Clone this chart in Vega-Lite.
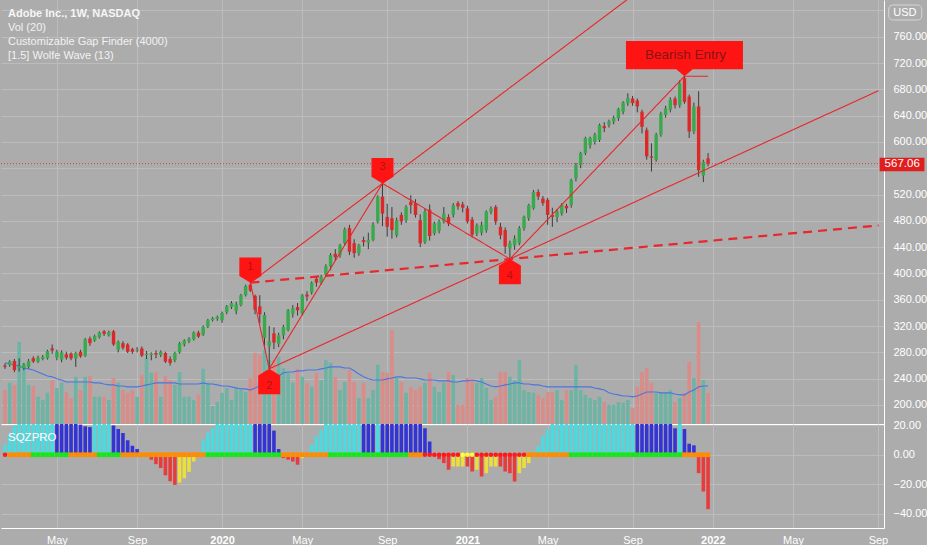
{
  "$schema": "https://vega.github.io/schema/vega-lite/v6.json",
  "background": "#acacac",
  "padding": 0,
  "spacing": 0,
  "bounds": "flush",
  "config": {
    "view": {"stroke": null},
    "font": "Liberation Sans",
    "axis": {"labelFont": "Liberation Sans", "labelFontSize": 11, "labelColor": "#ffffff", "gridColor": "#bcbcbc", "gridWidth": 1, "domainColor": "#ffffff", "ticks": false, "labelPadding": 9, "labelOverlap": false}
  },
  "datasets": {
    "weeks": [
      {"d":"2019-02-18","o":260,"h":263,"l":255,"c":258,"v":8.5,"ma":15.3,"m":7,"mc":"cyan","sq":"red"},
      {"d":"2019-02-25","o":261,"h":268,"l":258,"c":266,"v":10.3,"ma":15,"m":14,"mc":"cyan","sq":"orange"},
      {"d":"2019-03-04","o":267,"h":270,"l":250,"c":253,"v":9.8,"ma":14.8,"m":20,"mc":"cyan","sq":"orange"},
      {"d":"2019-03-11","o":256,"h":271,"l":251,"c":259,"v":20.5,"ma":14.5,"m":30,"mc":"cyan","sq":"orange"},
      {"d":"2019-03-18","o":256,"h":264,"l":253,"c":262,"v":14,"ma":14,"m":30,"mc":"cyan","sq":"orange"},
      {"d":"2019-03-25","o":258,"h":270,"l":256,"c":267,"v":9.8,"ma":13.8,"m":30,"mc":"cyan","sq":"orange"},
      {"d":"2019-04-01","o":271,"h":274,"l":264,"c":266,"v":9.5,"ma":13.5,"m":30,"mc":"cyan","sq":"green"},
      {"d":"2019-04-08","o":266,"h":275,"l":264,"c":272,"v":6.8,"ma":13,"m":30,"mc":"cyan","sq":"green"},
      {"d":"2019-04-15","o":270,"h":276,"l":268,"c":273,"v":6,"ma":12.5,"m":30,"mc":"cyan","sq":"green"},
      {"d":"2019-04-22","o":271,"h":284,"l":269,"c":282,"v":7.8,"ma":12,"m":30,"mc":"cyan","sq":"green"},
      {"d":"2019-04-29","o":286,"h":292,"l":278,"c":283,"v":11,"ma":11.8,"m":30,"mc":"cyan","sq":"green"},
      {"d":"2019-05-06","o":272,"h":284,"l":268,"c":281,"v":9,"ma":11.3,"m":30,"mc":"blue","sq":"green"},
      {"d":"2019-05-13","o":269,"h":283,"l":265,"c":280,"v":10.3,"ma":11,"m":30,"mc":"blue","sq":"green"},
      {"d":"2019-05-20","o":277,"h":281,"l":269,"c":272,"v":8,"ma":10.5,"m":30,"mc":"blue","sq":"green"},
      {"d":"2019-05-27","o":278,"h":280,"l":268,"c":271,"v":6.5,"ma":10.5,"m":30,"mc":"blue","sq":"orange"},
      {"d":"2019-06-03","o":271,"h":281,"l":258,"c":279,"v":11.8,"ma":10.5,"m":30,"mc":"blue","sq":"orange"},
      {"d":"2019-06-10","o":281,"h":284,"l":272,"c":274,"v":8.5,"ma":10.5,"m":20.5,"mc":"blue","sq":"orange"},
      {"d":"2019-06-17","o":275,"h":302,"l":273,"c":300,"v":11.8,"ma":10.5,"m":19.3,"mc":"blue","sq":"orange"},
      {"d":"2019-06-24","o":301,"h":304,"l":290,"c":294,"v":12,"ma":10.5,"m":18.8,"mc":"blue","sq":"orange"},
      {"d":"2019-07-01","o":298,"h":307,"l":296,"c":305,"v":6.8,"ma":10.3,"m":30,"mc":"cyan","sq":"orange"},
      {"d":"2019-07-08","o":303,"h":312,"l":301,"c":310,"v":6.8,"ma":10.3,"m":30,"mc":"cyan","sq":"green"},
      {"d":"2019-07-15","o":312,"h":314,"l":305,"c":308,"v":6.8,"ma":10,"m":30,"mc":"cyan","sq":"green"},
      {"d":"2019-07-22","o":306,"h":313,"l":304,"c":311,"v":6,"ma":9.8,"m":30,"mc":"cyan","sq":"green"},
      {"d":"2019-07-29","o":312,"h":314,"l":290,"c":292,"v":11.5,"ma":9.8,"m":19.9,"mc":"blue","sq":"green"},
      {"d":"2019-08-05","o":284,"h":298,"l":280,"c":296,"v":10.3,"ma":9.5,"m":17.5,"mc":"blue","sq":"green"},
      {"d":"2019-08-12","o":294,"h":297,"l":284,"c":287,"v":8.5,"ma":9.5,"m":14.8,"mc":"blue","sq":"orange"},
      {"d":"2019-08-19","o":292,"h":294,"l":279,"c":281,"v":7.8,"ma":9.3,"m":9.8,"mc":"blue","sq":"orange"},
      {"d":"2019-08-26","o":285,"h":287,"l":278,"c":281,"v":8.5,"ma":9.3,"m":6.1,"mc":"blue","sq":"orange"},
      {"d":"2019-09-02","o":283,"h":288,"l":280,"c":284,"v":6.8,"ma":9.3,"m":3.9,"mc":"blue","sq":"orange"},
      {"d":"2019-09-09","o":286,"h":289,"l":273,"c":275,"v":12.3,"ma":9.5,"m":1,"mc":"blue","sq":"orange"},
      {"d":"2019-09-16","o":276,"h":282,"l":270,"c":278,"v":16.5,"ma":9.8,"m":-1.5,"mc":"red","sq":"orange"},
      {"d":"2019-09-23","o":276,"h":280,"l":268,"c":278,"v":12.8,"ma":10,"m":-3.4,"mc":"red","sq":"orange"},
      {"d":"2019-09-30","o":279,"h":283,"l":271,"c":277,"v":13,"ma":10.3,"m":-6.4,"mc":"red","sq":"orange"},
      {"d":"2019-10-07","o":276,"h":283,"l":273,"c":281,"v":6.8,"ma":10.3,"m":-9,"mc":"red","sq":"orange"},
      {"d":"2019-10-14","o":279,"h":281,"l":264,"c":266,"v":12,"ma":10.3,"m":-14,"mc":"red","sq":"orange"},
      {"d":"2019-10-21","o":270,"h":274,"l":260,"c":264,"v":11,"ma":10.3,"m":-18,"mc":"red","sq":"orange"},
      {"d":"2019-10-28","o":268,"h":281,"l":265,"c":279,"v":9.8,"ma":10.3,"m":-20.5,"mc":"red","sq":"orange"},
      {"d":"2019-11-04","o":280,"h":296,"l":278,"c":294,"v":13,"ma":10,"m":-19,"mc":"yellow","sq":"orange"},
      {"d":"2019-11-11","o":292,"h":300,"l":289,"c":298,"v":6.8,"ma":10,"m":-16,"mc":"yellow","sq":"orange"},
      {"d":"2019-11-18","o":297,"h":303,"l":294,"c":301,"v":6.8,"ma":10,"m":-11.6,"mc":"yellow","sq":"orange"},
      {"d":"2019-11-25","o":300,"h":312,"l":298,"c":310,"v":6,"ma":10,"m":-4.6,"mc":"yellow","sq":"orange"},
      {"d":"2019-12-02","o":310,"h":313,"l":302,"c":304,"v":7.3,"ma":10,"m":-1,"mc":"yellow","sq":"orange"},
      {"d":"2019-12-09","o":307,"h":321,"l":305,"c":319,"v":13.8,"ma":10.3,"m":10.2,"mc":"cyan","sq":"orange"},
      {"d":"2019-12-16","o":319,"h":331,"l":317,"c":329,"v":10.3,"ma":10,"m":14.8,"mc":"cyan","sq":"green"},
      {"d":"2019-12-23","o":329,"h":334,"l":327,"c":332,"v":4.5,"ma":10,"m":18.2,"mc":"cyan","sq":"green"},
      {"d":"2019-12-30","o":331,"h":336,"l":328,"c":334,"v":5.5,"ma":9.8,"m":30,"mc":"cyan","sq":"green"},
      {"d":"2020-01-06","o":329,"h":342,"l":325,"c":340,"v":7.8,"ma":9.5,"m":30,"mc":"cyan","sq":"green"},
      {"d":"2020-01-13","o":341,"h":352,"l":338,"c":350,"v":9,"ma":9.5,"m":30,"mc":"cyan","sq":"green"},
      {"d":"2020-01-20","o":349,"h":358,"l":346,"c":355,"v":6,"ma":9.3,"m":30,"mc":"cyan","sq":"green"},
      {"d":"2020-01-27","o":343,"h":357,"l":338,"c":353,"v":9.3,"ma":9,"m":30,"mc":"cyan","sq":"green"},
      {"d":"2020-02-03","o":352,"h":369,"l":350,"c":367,"v":8.5,"ma":8.8,"m":30,"mc":"cyan","sq":"green"},
      {"d":"2020-02-10","o":367,"h":383,"l":365,"c":381,"v":8,"ma":8.8,"m":30,"mc":"cyan","sq":"green"},
      {"d":"2020-02-17","o":383,"h":386,"l":372,"c":374,"v":11.5,"ma":8.5,"m":30,"mc":"cyan","sq":"green"},
      {"d":"2020-02-24","o":366,"h":368,"l":338,"c":345,"v":17.8,"ma":9,"m":30,"mc":"blue","sq":"green"},
      {"d":"2020-03-02","o":350,"h":367,"l":324,"c":338,"v":17.3,"ma":9.5,"m":30,"mc":"blue","sq":"green"},
      {"d":"2020-03-09","o":302,"h":341,"l":285,"c":337,"v":18.5,"ma":10,"m":30,"mc":"blue","sq":"green"},
      {"d":"2020-03-16","o":290,"h":320,"l":255,"c":297,"v":16,"ma":10.5,"m":30,"mc":"blue","sq":"green"},
      {"d":"2020-03-23","o":309,"h":318,"l":285,"c":295,"v":16,"ma":11.3,"m":16.4,"mc":"blue","sq":"green"},
      {"d":"2020-03-30","o":293,"h":310,"l":288,"c":306,"v":16.8,"ma":12,"m":3.9,"mc":"blue","sq":"green"},
      {"d":"2020-04-06","o":306,"h":322,"l":300,"c":319,"v":14,"ma":12.8,"m":-2.3,"mc":"red","sq":"orange"},
      {"d":"2020-04-13","o":314,"h":346,"l":312,"c":344,"v":12.8,"ma":13,"m":-3.4,"mc":"red","sq":"orange"},
      {"d":"2020-04-20","o":339,"h":352,"l":333,"c":347,"v":10.3,"ma":13,"m":-4.6,"mc":"red","sq":"orange"},
      {"d":"2020-04-27","o":349,"h":355,"l":336,"c":344,"v":13.8,"ma":13.3,"m":-6.8,"mc":"red","sq":"orange"},
      {"d":"2020-05-04","o":339,"h":369,"l":336,"c":367,"v":11.8,"ma":13.3,"m":-2.3,"mc":"yellow","sq":"orange"},
      {"d":"2020-05-11","o":368,"h":373,"l":358,"c":365,"v":10.3,"ma":13.5,"m":0.5,"mc":"cyan","sq":"orange"},
      {"d":"2020-05-18","o":371,"h":388,"l":368,"c":386,"v":9.3,"ma":13.5,"m":6.8,"mc":"cyan","sq":"orange"},
      {"d":"2020-05-25","o":392,"h":395,"l":380,"c":386,"v":12.8,"ma":13.5,"m":12.5,"mc":"cyan","sq":"orange"},
      {"d":"2020-06-01","o":386,"h":398,"l":383,"c":395,"v":11,"ma":13.8,"m":17,"mc":"cyan","sq":"orange"},
      {"d":"2020-06-08","o":398,"h":414,"l":395,"c":411,"v":16,"ma":14,"m":30,"mc":"cyan","sq":"orange"},
      {"d":"2020-06-15","o":411,"h":431,"l":405,"c":428,"v":15.3,"ma":14.3,"m":30,"mc":"cyan","sq":"green"},
      {"d":"2020-06-22","o":430,"h":437,"l":419,"c":425,"v":11.8,"ma":14.3,"m":30,"mc":"cyan","sq":"green"},
      {"d":"2020-06-29","o":428,"h":445,"l":424,"c":443,"v":8.5,"ma":14.3,"m":30,"mc":"cyan","sq":"green"},
      {"d":"2020-07-06","o":446,"h":470,"l":443,"c":467,"v":10.5,"ma":14,"m":30,"mc":"cyan","sq":"green"},
      {"d":"2020-07-13","o":469,"h":474,"l":428,"c":433,"v":13.5,"ma":14,"m":30,"mc":"cyan","sq":"green"},
      {"d":"2020-07-20","o":446,"h":452,"l":424,"c":431,"v":10.5,"ma":13.3,"m":30,"mc":"cyan","sq":"green"},
      {"d":"2020-07-27","o":431,"h":445,"l":427,"c":443,"v":6.5,"ma":12.5,"m":30,"mc":"cyan","sq":"green"},
      {"d":"2020-08-03","o":451,"h":456,"l":441,"c":448,"v":10.3,"ma":11.8,"m":30,"mc":"blue","sq":"green"},
      {"d":"2020-08-10","o":447,"h":462,"l":437,"c":451,"v":6.5,"ma":11.3,"m":30,"mc":"blue","sq":"green"},
      {"d":"2020-08-17","o":451,"h":478,"l":449,"c":474,"v":8.5,"ma":11,"m":30,"mc":"blue","sq":"green"},
      {"d":"2020-08-24","o":479,"h":519,"l":476,"c":517,"v":14.8,"ma":11,"m":30,"mc":"cyan","sq":"green"},
      {"d":"2020-08-31","o":517,"h":537,"l":472,"c":491,"v":13,"ma":11,"m":30,"mc":"blue","sq":"green"},
      {"d":"2020-09-07","o":486,"h":506,"l":456,"c":471,"v":12.8,"ma":11.3,"m":30,"mc":"blue","sq":"green"},
      {"d":"2020-09-14","o":484,"h":501,"l":453,"c":466,"v":23.5,"ma":11.5,"m":30,"mc":"blue","sq":"green"},
      {"d":"2020-09-21","o":458,"h":485,"l":455,"c":481,"v":11.5,"ma":11.8,"m":30,"mc":"blue","sq":"green"},
      {"d":"2020-09-28","o":489,"h":493,"l":474,"c":479,"v":10.5,"ma":11.8,"m":30,"mc":"blue","sq":"green"},
      {"d":"2020-10-05","o":481,"h":504,"l":477,"c":501,"v":7.8,"ma":11.5,"m":30,"mc":"blue","sq":"green"},
      {"d":"2020-10-12","o":509,"h":519,"l":491,"c":504,"v":9.3,"ma":11.5,"m":30,"mc":"blue","sq":"orange"},
      {"d":"2020-10-19","o":507,"h":513,"l":485,"c":489,"v":8.5,"ma":11.5,"m":30,"mc":"blue","sq":"orange"},
      {"d":"2020-10-26","o":481,"h":490,"l":440,"c":446,"v":9.3,"ma":11.3,"m":30,"mc":"blue","sq":"orange"},
      {"d":"2020-11-02","o":448,"h":498,"l":445,"c":494,"v":10.3,"ma":11,"m":18,"mc":"blue","sq":"red"},
      {"d":"2020-11-09","o":497,"h":505,"l":450,"c":457,"v":12.8,"ma":11,"m":9,"mc":"blue","sq":"red"},
      {"d":"2020-11-16","o":461,"h":479,"l":458,"c":476,"v":9.3,"ma":11,"m":-1,"mc":"red","sq":"red"},
      {"d":"2020-11-23","o":465,"h":482,"l":461,"c":479,"v":8,"ma":10.8,"m":-3,"mc":"red","sq":"red"},
      {"d":"2020-11-30","o":479,"h":501,"l":476,"c":491,"v":10.3,"ma":10.8,"m":-5.7,"mc":"red","sq":"red"},
      {"d":"2020-12-07","o":486,"h":490,"l":472,"c":476,"v":13,"ma":10.8,"m":-10.2,"mc":"red","sq":"red"},
      {"d":"2020-12-14","o":489,"h":507,"l":485,"c":504,"v":12.3,"ma":10.5,"m":-8,"mc":"yellow","sq":"red"},
      {"d":"2020-12-21","o":507,"h":510,"l":497,"c":502,"v":4.8,"ma":10.5,"m":-8,"mc":"yellow","sq":"red"},
      {"d":"2020-12-28","o":505,"h":509,"l":493,"c":500,"v":4.8,"ma":10.8,"m":-8,"mc":"yellow","sq":"yellow"},
      {"d":"2021-01-04","o":499,"h":503,"l":476,"c":479,"v":11.5,"ma":10.8,"m":-8,"mc":"red","sq":"yellow"},
      {"d":"2021-01-11","o":482,"h":486,"l":455,"c":459,"v":11,"ma":11,"m":-11.4,"mc":"red","sq":"yellow"},
      {"d":"2021-01-18","o":461,"h":476,"l":457,"c":473,"v":10.3,"ma":10.8,"m":-10.2,"mc":"yellow","sq":"red"},
      {"d":"2021-01-25","o":462,"h":479,"l":458,"c":474,"v":11.5,"ma":10.5,"m":-14.8,"mc":"red","sq":"red"},
      {"d":"2021-02-01","o":466,"h":496,"l":462,"c":494,"v":9,"ma":10,"m":-12.5,"mc":"yellow","sq":"red"},
      {"d":"2021-02-08","o":494,"h":502,"l":490,"c":499,"v":6,"ma":9.5,"m":-8,"mc":"yellow","sq":"red"},
      {"d":"2021-02-15","o":501,"h":504,"l":474,"c":479,"v":6.8,"ma":9.3,"m":-8,"mc":"yellow","sq":"red"},
      {"d":"2021-02-22","o":471,"h":477,"l":452,"c":458,"v":13,"ma":9.5,"m":-8,"mc":"red","sq":"red"},
      {"d":"2021-03-01","o":466,"h":470,"l":430,"c":441,"v":13,"ma":9.8,"m":-11.4,"mc":"red","sq":"red"},
      {"d":"2021-03-08","o":438,"h":450,"l":422,"c":446,"v":11.8,"ma":10,"m":-12.5,"mc":"red","sq":"red"},
      {"d":"2021-03-15","o":443,"h":458,"l":436,"c":453,"v":11,"ma":10.3,"m":-18.2,"mc":"red","sq":"red"},
      {"d":"2021-03-22","o":446,"h":472,"l":443,"c":469,"v":16,"ma":10.3,"m":-12.5,"mc":"yellow","sq":"red"},
      {"d":"2021-03-29","o":469,"h":488,"l":465,"c":486,"v":8.5,"ma":10,"m":-9,"mc":"yellow","sq":"red"},
      {"d":"2021-04-05","o":484,"h":506,"l":480,"c":504,"v":8,"ma":10,"m":-5.7,"mc":"yellow","sq":"orange"},
      {"d":"2021-04-12","o":499,"h":527,"l":497,"c":524,"v":7.8,"ma":9.8,"m":2.3,"mc":"cyan","sq":"orange"},
      {"d":"2021-04-19","o":524,"h":528,"l":512,"c":517,"v":7.3,"ma":9.8,"m":5.7,"mc":"cyan","sq":"orange"},
      {"d":"2021-04-26","o":514,"h":518,"l":503,"c":507,"v":6.5,"ma":9.5,"m":12.5,"mc":"cyan","sq":"orange"},
      {"d":"2021-05-03","o":512,"h":515,"l":474,"c":489,"v":8,"ma":9.3,"m":17,"mc":"cyan","sq":"orange"},
      {"d":"2021-05-10","o":489,"h":500,"l":471,"c":486,"v":8,"ma":9.3,"m":30,"mc":"cyan","sq":"orange"},
      {"d":"2021-05-17","o":486,"h":498,"l":478,"c":494,"v":8.5,"ma":9.3,"m":30,"mc":"cyan","sq":"orange"},
      {"d":"2021-05-24","o":491,"h":507,"l":488,"c":504,"v":6,"ma":9.3,"m":30,"mc":"cyan","sq":"orange"},
      {"d":"2021-05-31","o":503,"h":506,"l":492,"c":499,"v":8.5,"ma":9.3,"m":30,"mc":"cyan","sq":"orange"},
      {"d":"2021-06-07","o":504,"h":544,"l":500,"c":542,"v":8.5,"ma":9.3,"m":30,"mc":"cyan","sq":"green"},
      {"d":"2021-06-14","o":545,"h":568,"l":540,"c":565,"v":14.8,"ma":9.3,"m":30,"mc":"cyan","sq":"green"},
      {"d":"2021-06-21","o":565,"h":585,"l":560,"c":583,"v":8.5,"ma":9.3,"m":30,"mc":"cyan","sq":"green"},
      {"d":"2021-06-28","o":583,"h":608,"l":580,"c":606,"v":7.3,"ma":9.3,"m":30,"mc":"cyan","sq":"green"},
      {"d":"2021-07-05","o":595,"h":608,"l":590,"c":606,"v":6.5,"ma":9.3,"m":30,"mc":"cyan","sq":"green"},
      {"d":"2021-07-12","o":600,"h":614,"l":596,"c":611,"v":6,"ma":9,"m":30,"mc":"cyan","sq":"green"},
      {"d":"2021-07-19","o":603,"h":628,"l":600,"c":626,"v":6.8,"ma":8.8,"m":30,"mc":"cyan","sq":"green"},
      {"d":"2021-07-26","o":624,"h":630,"l":615,"c":621,"v":5.5,"ma":8.5,"m":30,"mc":"cyan","sq":"green"},
      {"d":"2021-08-02","o":626,"h":634,"l":622,"c":631,"v":4.8,"ma":7.8,"m":30,"mc":"cyan","sq":"green"},
      {"d":"2021-08-09","o":631,"h":640,"l":627,"c":637,"v":4.8,"ma":7.5,"m":30,"mc":"cyan","sq":"green"},
      {"d":"2021-08-16","o":636,"h":652,"l":632,"c":650,"v":5.5,"ma":7.3,"m":30,"mc":"cyan","sq":"green"},
      {"d":"2021-08-23","o":646,"h":662,"l":642,"c":660,"v":5.3,"ma":7,"m":30,"mc":"cyan","sq":"green"},
      {"d":"2021-08-30","o":659,"h":674,"l":655,"c":667,"v":6,"ma":7,"m":30,"mc":"cyan","sq":"green"},
      {"d":"2021-09-06","o":666,"h":670,"l":655,"c":659,"v":4,"ma":6.8,"m":30,"mc":"cyan","sq":"green"},
      {"d":"2021-09-13","o":663,"h":666,"l":645,"c":654,"v":9.3,"ma":7,"m":30,"mc":"blue","sq":"green"},
      {"d":"2021-09-20","o":646,"h":649,"l":613,"c":623,"v":13,"ma":7.5,"m":30,"mc":"blue","sq":"green"},
      {"d":"2021-09-27","o":618,"h":622,"l":573,"c":578,"v":14,"ma":8,"m":30,"mc":"blue","sq":"green"},
      {"d":"2021-10-04","o":578,"h":598,"l":555,"c":576,"v":10.3,"ma":8,"m":30,"mc":"blue","sq":"green"},
      {"d":"2021-10-11","o":573,"h":614,"l":570,"c":611,"v":7.8,"ma":8,"m":30,"mc":"blue","sq":"green"},
      {"d":"2021-10-18","o":611,"h":646,"l":608,"c":643,"v":7.8,"ma":7.8,"m":30,"mc":"blue","sq":"green"},
      {"d":"2021-10-25","o":641,"h":655,"l":637,"c":651,"v":7.8,"ma":7.8,"m":30,"mc":"blue","sq":"green"},
      {"d":"2021-11-01","o":649,"h":668,"l":645,"c":664,"v":8.5,"ma":7.8,"m":30,"mc":"blue","sq":"green"},
      {"d":"2021-11-08","o":666,"h":669,"l":651,"c":656,"v":5.5,"ma":7.5,"m":18,"mc":"blue","sq":"green"},
      {"d":"2021-11-15","o":656,"h":694,"l":652,"c":689,"v":6.5,"ma":7.3,"m":30,"mc":"cyan","sq":"green"},
      {"d":"2021-11-22","o":697,"h":700,"l":658,"c":661,"v":7.8,"ma":7.3,"m":17.5,"mc":"blue","sq":"orange"},
      {"d":"2021-11-29","o":669,"h":672,"l":606,"c":616,"v":15.5,"ma":8,"m":7.5,"mc":"blue","sq":"orange"},
      {"d":"2021-12-06","o":616,"h":660,"l":612,"c":654,"v":11.5,"ma":8.5,"m":6.4,"mc":"blue","sq":"orange"},
      {"d":"2021-12-13","o":654,"h":677,"l":547,"c":557,"v":25.5,"ma":9.3,"m":-12.5,"mc":"red","sq":"orange"},
      {"d":"2021-12-20","o":549,"h":573,"l":539,"c":570,"v":11,"ma":9.5,"m":-25,"mc":"red","sq":"orange"},
      {"d":"2021-12-27","o":575,"h":583,"l":563,"c":567.06,"v":7.8,"ma":9.5,"m":-37,"mc":"red","sq":"orange"}
    ],
    "wolfe": [
      {"d1":"2020-02-17","p1":386,"d2":"2020-03-16","p2":255,"s":"solid"},
      {"d1":"2020-03-16","p1":255,"d2":"2020-08-31","p2":537,"s":"solid"},
      {"d1":"2020-08-31","p1":537,"d2":"2021-03-08","p2":422,"s":"solid"},
      {"d1":"2021-03-08","p1":422,"d2":"2021-11-22","p2":700,"s":"solid"},
      {"d1":"2020-02-17","p1":386,"d2":"2021-12-31","p2":912,"s":"solid"},
      {"d1":"2020-03-16","p1":255,"d2":"2022-09-06","p2":678,"s":"solid"},
      {"d1":"2020-02-17","p1":386,"d2":"2022-09-06","p2":473,"s":"dash"},
      {"d1":"2021-11-22","p1":700,"d2":"2021-12-27","p2":700,"s":"solid"}
    ],
    "pivots": [
      {"d":"2020-02-17","p":386,"k":"1","dir":"down"},
      {"d":"2020-03-16","p":255,"k":"2","dir":"up"},
      {"d":"2020-08-31","p":537,"k":"3","dir":"down"},
      {"d":"2021-03-08","p":422,"k":"4","dir":"up"}
    ],
    "entry": [
      {"d":"2021-11-22","p":700,"t":"Bearish Entry"}
    ]
  },
  "vconcat": [
    {
      "width": 883,
      "height": 424,
      "title": {
        "text": "Adobe Inc., 1W, NASDAQ",
        "subtitle": ["Vol (20)", "Customizable Gap Finder (4000)", "[1.5] Wolfe Wave (13)"],
        "anchor": "start",
        "frame": "group",
        "orient": "top",
        "offset": -60.5,
        "dx": 7,
        "font": "Liberation Sans",
        "fontSize": 11,
        "fontWeight": "bold",
        "color": "#f6f6f6",
        "subtitleFont": "Liberation Sans",
        "subtitleFontSize": 11,
        "subtitleColor": "#f2f2f2",
        "subtitleLineHeight": 14,
        "subtitlePadding": 3
      },
      "resolve": {"scale": {"y": "independent"}},
      "layer": [
        {
          "data": {"name": "weeks"},
          "layer": [
            {
              "mark": {"type": "bar", "width": 3.6, "clip": true},
              "encoding": {
                "x": {
                  "field": "d", "type": "temporal", "title": null,
                  "scale": {"type": "utc", "domain": [{"year": 2019, "month": 2, "date": 19, "hours": 12, "utc": true}, {"year": 2022, "month": 9, "date": 6, "hours": 14, "utc": true}]},
                  "axis": {
                    "values": [
                      {"year": 2019, "month": 5, "date": 6, "utc": true}, {"year": 2019, "month": 9, "date": 2, "utc": true},
                      {"year": 2020, "month": 1, "date": 6, "utc": true}, {"year": 2020, "month": 5, "date": 4, "utc": true},
                      {"year": 2020, "month": 9, "date": 7, "utc": true}, {"year": 2021, "month": 1, "date": 4, "utc": true},
                      {"year": 2021, "month": 5, "date": 3, "utc": true}, {"year": 2021, "month": 9, "date": 6, "utc": true},
                      {"year": 2022, "month": 1, "date": 3, "utc": true}, {"year": 2022, "month": 5, "date": 2, "utc": true},
                      {"year": 2022, "month": 9, "date": 5, "utc": true}
                    ],
                    "tickCount": 40,
                    "labels": false, "ticks": false, "domain": true, "grid": true, "title": null
                  }
                },
                "y": {"field": "v", "type": "quantitative", "title": null, "scale": {"domain": [0, 106], "nice": false}, "axis": null},
                "color": {"condition": {"test": "datum.c >= datum.o", "value": "#6db4a4"}, "value": "#d98c88"}
              }
            },
            {
              "mark": {"type": "line", "color": "#4a76e0", "strokeWidth": 1.2, "clip": true},
              "encoding": {
                "x": {"field": "d", "type": "temporal", "title": null},
                "y": {"field": "ma", "type": "quantitative", "title": null}
              }
            }
          ]
        },
        {
          "layer": [
            {
              "data": {"name": "weeks"},
              "mark": {"type": "rule", "color": "#3b3b3b", "strokeWidth": 1, "clip": true},
              "encoding": {
                "x": {"field": "d", "type": "temporal", "title": null},
                "y": {
                  "field": "l", "type": "quantitative", "title": null,
                  "scale": {"domain": [171.1, 815.9], "nice": false, "zero": false},
                  "axis": {"orient": "right", "values": [200, 240, 280, 320, 360, 400, 440, 480, 520, 560, 600, 640, 680, 720, 760, 800], "tickCount": 40, "labelExpr": "datum.value == 560 || datum.value == 800 ? '' : format(datum.value, '.2f')", "grid": true, "domain": true, "labelOverlap": false, "title": null}
                },
                "y2": {"field": "h"}
              }
            },
            {
              "data": {"name": "weeks"},
              "mark": {"type": "bar", "width": 3.4, "clip": true},
              "encoding": {
                "x": {"field": "d", "type": "temporal", "title": null},
                "y": {"field": "o", "type": "quantitative", "title": null},
                "y2": {"field": "c"},
                "color": {"condition": {"test": "datum.c >= datum.o", "value": "#37aa4b"}, "value": "#dc2828"}
              }
            },
            {
              "data": {"values": [{}]},
              "mark": {"type": "rule", "color": "#d94040", "strokeDash": [1, 2], "strokeWidth": 1},
              "encoding": {"y": {"datum": 567.06}}
            },
            {
              "data": {"name": "wolfe"},
              "mark": {"type": "rule", "color": "#e8262b", "clip": true},
              "encoding": {
                "x": {"field": "d1", "type": "temporal", "title": null},
                "x2": {"field": "d2"},
                "y": {"field": "p1", "type": "quantitative", "title": null},
                "y2": {"field": "p2"},
                "strokeDash": {"field": "s", "type": "nominal", "scale": {"domain": ["solid", "dash"], "range": [[1, 0], [9, 6]]}, "legend": null},
                "strokeWidth": {"field": "s", "type": "nominal", "scale": {"domain": ["solid", "dash"], "range": [1.1, 2.2]}, "legend": null}
              }
            },
            {
              "data": {"name": "pivots"},
              "transform": [{"filter": "datum.dir == 'down'"}],
              "mark": {"type": "point", "filled": true, "opacity": 1, "color": "#ff1414", "size": 484, "shape": "M0,0 L-1,-0.6 L-1,-2.3 L1,-2.3 L1,-0.6 Z"},
              "encoding": {
                "x": {"field": "d", "type": "temporal", "title": null},
                "y": {"field": "p", "type": "quantitative", "title": null}
              }
            },
            {
              "data": {"name": "pivots"},
              "transform": [{"filter": "datum.dir == 'up'"}],
              "mark": {"type": "point", "filled": true, "opacity": 1, "color": "#ff1414", "size": 484, "shape": "M0,0 L1,0.6 L1,2.3 L-1,2.3 L-1,0.6 Z"},
              "encoding": {
                "x": {"field": "d", "type": "temporal", "title": null},
                "y": {"field": "p", "type": "quantitative", "title": null}
              }
            },
            {
              "data": {"name": "pivots"},
              "transform": [{"filter": "datum.dir == 'down'"}],
              "mark": {"type": "text", "dy": -16, "color": "#b81010", "fontSize": 11},
              "encoding": {
                "x": {"field": "d", "type": "temporal", "title": null},
                "y": {"field": "p", "type": "quantitative", "title": null},
                "text": {"field": "k"}
              }
            },
            {
              "data": {"name": "pivots"},
              "transform": [{"filter": "datum.dir == 'up'"}],
              "mark": {"type": "text", "dy": 17, "color": "#b81010", "fontSize": 11},
              "encoding": {
                "x": {"field": "d", "type": "temporal", "title": null},
                "y": {"field": "p", "type": "quantitative", "title": null},
                "text": {"field": "k"}
              }
            },
            {
              "data": {"name": "entry"},
              "mark": {"type": "point", "filled": true, "opacity": 1, "color": "#ff1414", "size": 13689, "shape": "M0,0 L-0.14,-0.12 L-1,-0.12 L-1,-0.6 L1,-0.6 L1,-0.12 L0.14,-0.12 Z"},
              "encoding": {
                "x": {"field": "d", "type": "temporal", "title": null},
                "y": {"field": "p", "type": "quantitative", "title": null}
              }
            },
            {
              "data": {"name": "entry"},
              "mark": {"type": "text", "dy": -21, "dx": 1, "color": "#8a1515", "fontSize": 13.5},
              "encoding": {
                "x": {"field": "d", "type": "temporal", "title": null},
                "y": {"field": "p", "type": "quantitative", "title": null},
                "text": {"field": "t"}
              }
            },
            {
              "data": {"values": [{}]},
              "mark": {"type": "rect", "color": "#e01e1e", "clip": false},
              "encoding": {
                "x": {"datum": {"year": 2022, "month": 9, "date": 7, "hours": 12, "utc": true}, "type": "temporal"},
                "x2": {"datum": {"year": 2022, "month": 11, "date": 13, "utc": true}},
                "y": {"datum": 576, "type": "quantitative"},
                "y2": {"datum": 555.5}
              }
            },
            {
              "data": {"values": [{}]},
              "mark": {"type": "text", "color": "#ffffff", "fontSize": 11.5, "align": "center", "baseline": "middle", "clip": false},
              "encoding": {
                "x": {"datum": {"year": 2022, "month": 10, "date": 11, "utc": true}, "type": "temporal"},
                "y": {"datum": 565.8, "type": "quantitative"},
                "text": {"value": "567.06"}
              }
            },
            {
              "data": {"values": [{}]},
              "mark": {"type": "rect", "fill": "#acacac", "stroke": "#d6d6d6", "strokeWidth": 1, "cornerRadius": 4, "clip": false},
              "encoding": {
                "x": {"datum": {"year": 2022, "month": 9, "date": 21, "utc": true}, "type": "temporal"},
                "x2": {"datum": {"year": 2022, "month": 11, "date": 9, "utc": true}},
                "y": {"datum": 808.3, "type": "quantitative"},
                "y2": {"datum": 785.5}
              }
            },
            {
              "data": {"values": [{}]},
              "mark": {"type": "text", "color": "#ffffff", "fontSize": 11, "align": "center", "baseline": "middle", "clip": false},
              "encoding": {
                "x": {"datum": {"year": 2022, "month": 10, "date": 15, "utc": true}, "type": "temporal"},
                "y": {"datum": 796.8, "type": "quantitative"},
                "text": {"value": "USD"}
              }
            }
          ]
        }
      ]
    },
    {
      "width": 883,
      "height": 104,
      "title": {
        "text": "SQZPRO",
        "anchor": "start",
        "frame": "group",
        "orient": "top",
        "offset": -24,
        "dx": 7,
        "font": "Liberation Sans",
        "fontSize": 11.5,
        "fontWeight": "normal",
        "color": "#ffffff"
      },
      "data": {"name": "weeks"},
      "resolve": {"scale": {"color": "independent", "shape": "independent"}},
      "layer": [
        {
          "mark": {"type": "bar", "width": 3.6, "clip": true},
          "encoding": {
            "x": {
              "field": "d", "type": "temporal", "title": null,
              "scale": {"type": "utc", "domain": [{"year": 2019, "month": 2, "date": 19, "hours": 12, "utc": true}, {"year": 2022, "month": 9, "date": 6, "hours": 14, "utc": true}]},
              "axis": {
                "values": [
                  {"year": 2019, "month": 5, "date": 6, "utc": true}, {"year": 2019, "month": 9, "date": 2, "utc": true},
                  {"year": 2020, "month": 1, "date": 6, "utc": true}, {"year": 2020, "month": 5, "date": 4, "utc": true},
                  {"year": 2020, "month": 9, "date": 7, "utc": true}, {"year": 2021, "month": 1, "date": 4, "utc": true},
                  {"year": 2021, "month": 5, "date": 3, "utc": true}, {"year": 2021, "month": 9, "date": 6, "utc": true},
                  {"year": 2022, "month": 1, "date": 3, "utc": true}, {"year": 2022, "month": 5, "date": 2, "utc": true},
                  {"year": 2022, "month": 9, "date": 5, "utc": true}
                ],
                "tickCount": 40,
                "labelExpr": "utcmonth(datum.value) == 0 ? utcFormat(datum.value, '%Y') : utcFormat(datum.value, '%b')",
                "labelFontWeight": {"condition": {"test": "utcmonth(datum.value) == 0", "value": "bold"}, "value": "normal"},
                "labelPadding": 6,
                "labelFlush": false,
                "labelOverlap": false,
                "grid": true,
                "domain": true,
                "title": null
              }
            },
            "y": {
              "field": "m", "type": "quantitative", "title": null,
              "scale": {"domain": [-49.8, 20.9], "nice": false, "zero": false},
              "axis": {"orient": "right", "values": [20, 0, -20, -40], "tickCount": 40, "format": ".2f", "grid": true, "domain": true, "labelOverlap": false, "title": null}
            },
            "y2": {"datum": 0},
            "color": {"field": "mc", "type": "nominal", "scale": {"domain": ["cyan", "blue", "red", "yellow"], "range": ["#4adbe0", "#3434d4", "#e83c3c", "#ecdf3c"]}, "legend": null}
          }
        },
        {
          "mark": {"type": "point", "filled": true, "opacity": 1, "size": 22},
          "encoding": {
            "x": {"field": "d", "type": "temporal", "title": null},
            "y": {"datum": 0},
            "color": {"field": "sq", "type": "nominal", "scale": {"domain": ["red", "yellow", "orange", "green"], "range": ["#ff1a1a", "#ffff33", "#ff8c00", "#19e619"]}, "legend": null},
            "shape": {"field": "sq", "type": "nominal", "scale": {"domain": ["red", "yellow", "orange", "green"], "range": ["circle", "circle", "square", "square"]}, "legend": null}
          }
        }
      ]
    }
  ]
}
